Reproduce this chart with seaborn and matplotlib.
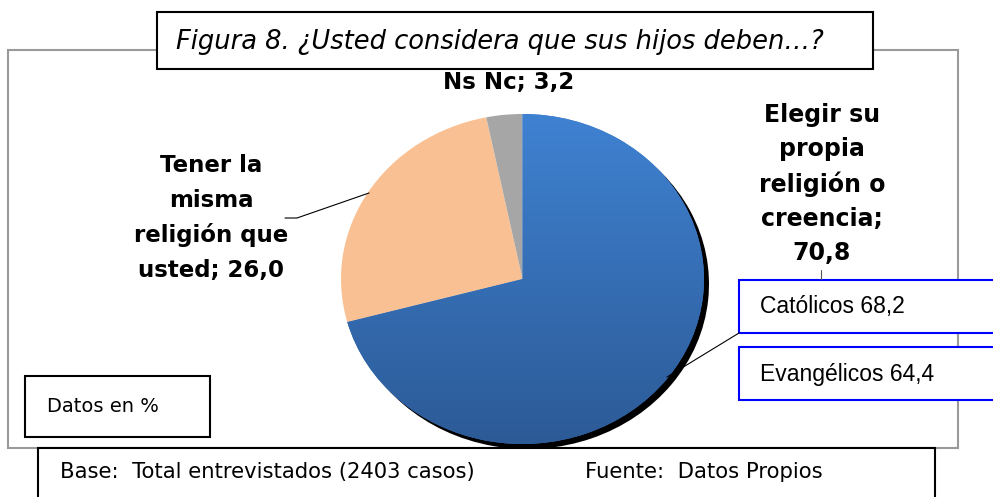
import numpy as np
import seaborn as sns
import matplotlib.pyplot as plt
from matplotlib.colors import LinearSegmentedColormap
from matplotlib.lines import Line2D
from matplotlib.patches import Rectangle

# data
categorias = ['Elegir su\npropia\nreligión o\ncreencia', 'Tener la\nmisma\nreligión que\nusted', 'Ns Nc']
valores = [70.8, 26.0, 3.2]
colores = ['#3A76C4', '#F9C193', '#A6A6A6']
subgrupos = ['Católicos', 'Evangélicos']
sub_valores = [68.2, 64.4]

titulo = 'Figura 8. ¿Usted considera que sus hijos deben…?'
nota = 'Datos en %'
base = 'Base:  Total entrevistados (2403 casos)'
fuente = 'Fuente:  Datos Propios'

sns.set_theme(style='white')
plt.rcParams['font.family'] = ['DejaVu Sans']
plt.rcParams['text.color'] = 'black'

W, H = 993, 497
fig = plt.figure(figsize=(W / 100, H / 100), dpi=100)


def px(x, y):
    # pixel coords (top-left origin) -> figure fraction
    return x / W, 1 - y / H


def caja(x0, y0, x1, y1, color='black', lw=1.5, z=3):
    fig.patches.append(Rectangle(px(x0, y1), (x1 - x0) / W, (y1 - y0) / H,
                                 transform=fig.transFigure, fill=True, facecolor='white',
                                 edgecolor=color, lw=lw, zorder=z))


def linea(xs, ys, lw=0.8, color='black'):
    fx = [x / W for x in xs]
    fy = [1 - y / H for y in ys]
    fig.lines.append(Line2D(fx, fy, transform=fig.transFigure, lw=lw, color=color, zorder=5))


# outer frame
caja(8, 50, 958, 448, color='#9A9A9A', lw=1.5, z=-1)

# pie, stretched into an ellipse
l, b = px(341, 444)
r, t = px(704, 114)
rect = [l, b, r - l, t - b]

# dark shadow along the lower-right edge of the big slice
ax_sh = fig.add_axes([rect[0] + 5 / W, rect[1] - 5 / H, rect[2], rect[3]], zorder=1)
ax_sh.pie(valores, colors=['black', 'none', 'none'], startangle=90, counterclock=False,
          wedgeprops=dict(linewidth=0))
ax_sh.set_aspect('auto')
ax_sh.set_xlim(-1, 1)
ax_sh.set_ylim(-1, 1)
ax_sh.axis('off')

ax = fig.add_axes(rect, zorder=2)
wedges, _ = ax.pie(valores, colors=colores, startangle=90, counterclock=False,
                   wedgeprops=dict(linewidth=0))
ax.set_aspect('auto')
ax.set_xlim(-1, 1)
ax.set_ylim(-1, 1)
ax.axis('off')

# vertical gradient on the blue slice
grad = LinearSegmentedColormap.from_list('azul', ['#2C5A96', '#3F82D2'])
img = ax.imshow(np.linspace(0, 1, 256).reshape(-1, 1), cmap=grad, origin='lower',
                extent=(-1, 1, -1, 1), aspect='auto', zorder=2)
img.set_clip_path(wedges[0])

# title box
caja(157, 12, 873, 69, lw=1.5, z=3)
fig.text(*px(500, 42), titulo, ha='center', va='center', fontsize=18.5,
         style='italic', zorder=6)

# slice labels
fig.text(*px(509, 82), f'{categorias[2]}; {valores[2]:.1f}'.replace('.', ','),
         ha='center', va='center', fontsize=16.5, fontweight='bold', zorder=6)
fig.text(*px(822, 184), f'{categorias[0]};\n{valores[0]:.1f}'.replace('.', ','),
         ha='center', va='center', fontsize=17, fontweight='bold', linespacing=1.52, zorder=6)
fig.text(*px(211, 218), f'{categorias[1]}; {valores[1]:.1f}'.replace('.', ','),
         ha='center', va='center', fontsize=16.5, fontweight='bold', linespacing=1.62, zorder=6)

# leader lines
linea([285, 297, 369], [218, 218, 193])
linea([667, 739], [377, 333])
linea([821, 821], [270, 279], color='#555555')

# sub-group boxes
for i, (nom, val) in enumerate(zip(subgrupos, sub_valores)):
    y0 = 280 + i * 67
    caja(739, y0, 1000, y0 + 53, color='#0000FF', lw=1.5, z=4)
    fig.text(*px(760, y0 + 27), f'{nom} {val:.1f}'.replace('.', ','), ha='left', va='center',
             fontsize=16.5, family='Liberation Sans', zorder=6)

# note box
caja(25, 376, 210, 437, lw=1.5, z=3)
fig.text(*px(47, 406), nota, ha='left', va='center', fontsize=14, zorder=6)

# base / source box
caja(38, 448, 935, 510, lw=1.5, z=3)
fig.text(*px(60, 472), base, ha='left', va='center', fontsize=15.2, zorder=6)
fig.text(*px(585, 472), fuente, ha='left', va='center', fontsize=15.2, zorder=6)

fig.savefig('out.png', dpi=100)
